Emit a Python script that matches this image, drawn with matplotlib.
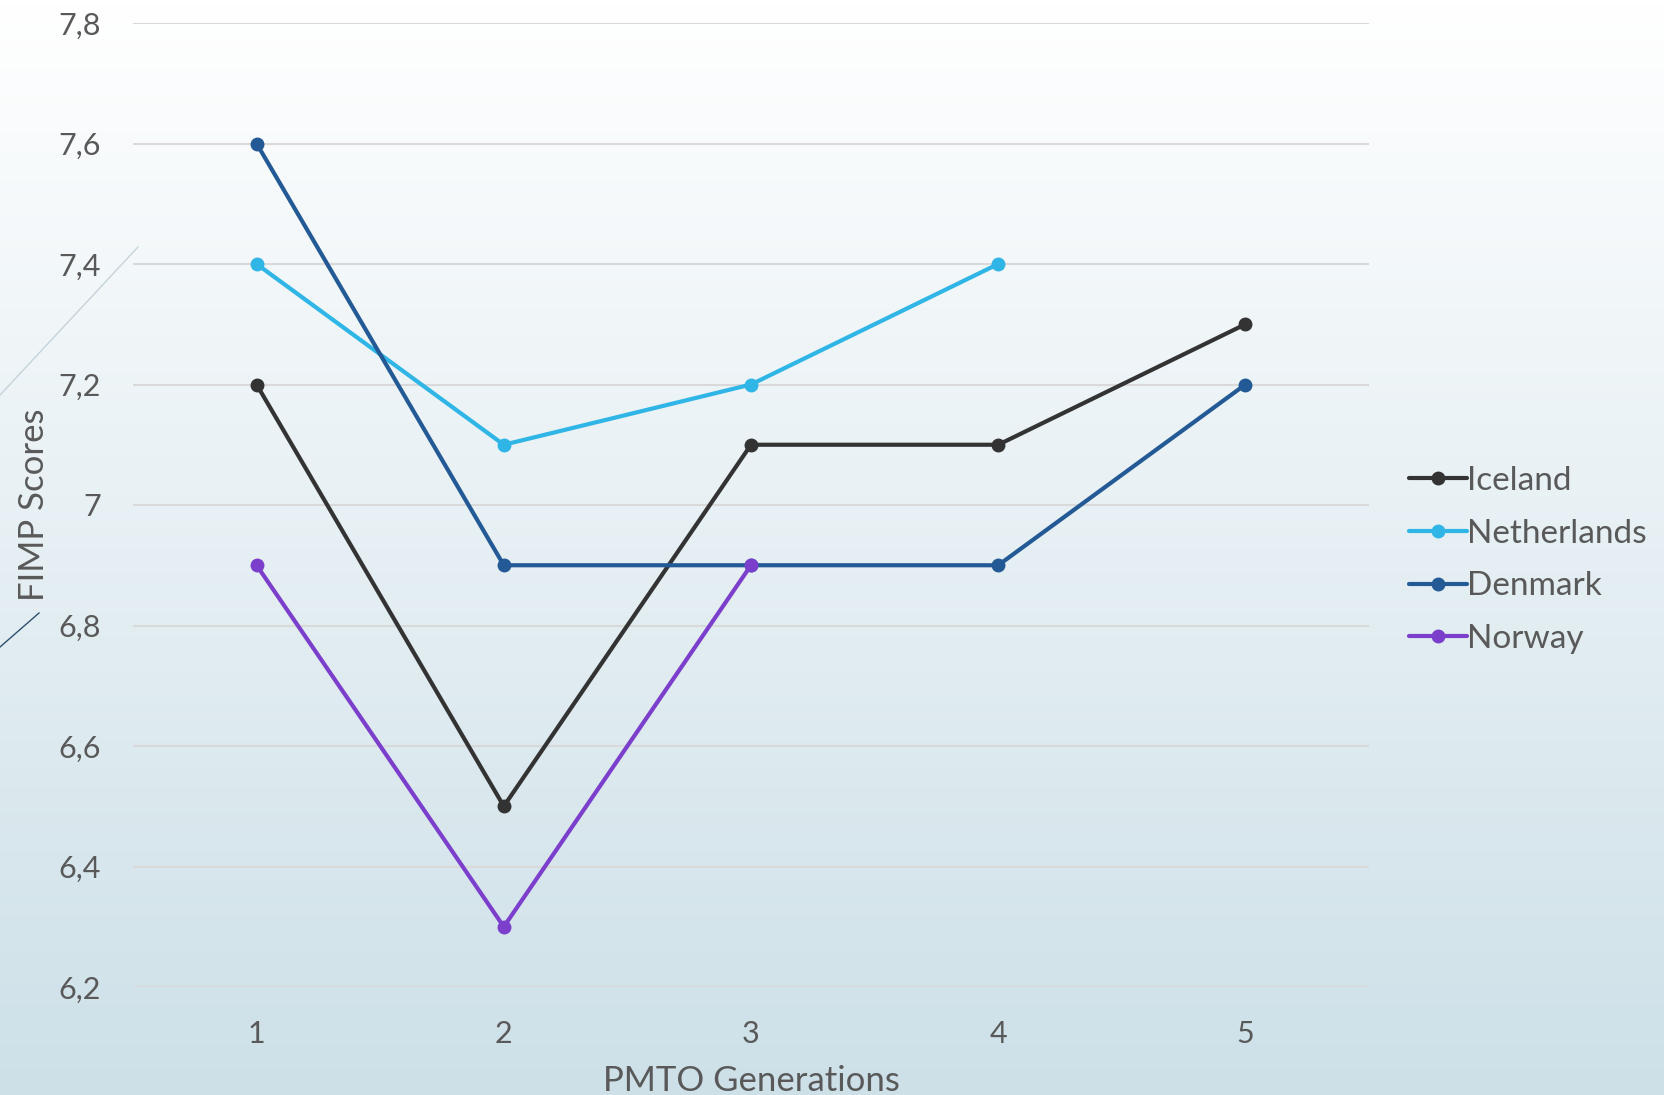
import matplotlib
matplotlib.use("Agg")
import matplotlib.pyplot as plt
import numpy as np
from matplotlib.colors import LinearSegmentedColormap
from matplotlib.lines import Line2D

# Chart data
generations = [1, 2, 3, 4, 5]
iceland = [7.2, 6.5, 7.1, 7.1, 7.3]
netherlands = [7.4, 7.1, 7.2, 7.4, None]
denmark = [7.6, 6.9, 6.9, 6.9, 7.2]
norway = [6.9, 6.3, 6.9, None, None]

y_ticks = [6.2, 6.4, 6.6, 6.8, 7.0, 7.2, 7.4, 7.6, 7.8]
y_tick_labels = ["6,2", "6,4", "6,6", "6,8", "7", "7,2", "7,4", "7,6", "7,8"]

SERIES = [
    ("Iceland", iceland, "#333333"),
    ("Netherlands", netherlands, "#2fb5e6"),
    ("Denmark", denmark, "#235a96"),
    ("Norway", norway, "#7b3fcc"),
]

TEXT_COLOR = "#595959"
plt.rcParams["font.family"] = ["Lato", "DejaVu Sans"]

fig = plt.figure(figsize=(16.64, 10.95), dpi=100)

# Background gradient (white at top, pale blue at bottom)
bg = fig.add_axes([0, 0, 1, 1], zorder=-10)
cmap = LinearSegmentedColormap.from_list("bg", ["#cde0e8", "#ffffff"])
bg.imshow(np.linspace(0, 1, 256).reshape(-1, 1), aspect="auto", cmap=cmap,
          origin="lower", extent=[0, 1, 0, 1])
bg.set_xlim(0, 1)
bg.set_ylim(0, 1)
bg.axis("off")

# Slide decoration lines on the left edge
bg.add_line(Line2D([0.0, 138 / 1664], [1 - 395 / 1095, 1 - 247 / 1095],
                   color="#c5d3dc", lw=1.0))
bg.add_line(Line2D([0.0, 39 / 1664], [1 - 647 / 1095, 1 - 613 / 1095],
                   color="#2e4f6e", lw=1.0))

ax = fig.add_axes([133 / 1664, 1 - 987 / 1095, 1236 / 1664, 964 / 1095])
ax.patch.set_alpha(0)

for name, vals, color in SERIES:
    xs = [g for g, v in zip(generations, vals) if v is not None]
    ys = [v for v in vals if v is not None]
    ax.plot(xs, ys, color=color, lw=3.0, marker="o", markersize=9,
            label=name, solid_capstyle="round")

ax.set_xlim(0.5, 5.5)
ax.set_ylim(6.2, 7.8)
ax.set_yticks(y_ticks)
ax.set_yticklabels(y_tick_labels)
ax.set_xticks(generations)
ax.tick_params(length=0, labelsize=22, colors=TEXT_COLOR)
ax.tick_params(axis="x", pad=24)
ax.tick_params(axis="y", pad=23)
ax.grid(axis="y", color="#d9d9d9", lw=1.5)
ax.set_axisbelow(True)
for s in ax.spines.values():
    s.set_visible(False)

ax.set_xlabel("PMTO Generations", fontsize=25, color=TEXT_COLOR, labelpad=12)
ax.set_ylabel("FIMP Scores", fontsize=25, color=TEXT_COLOR, labelpad=6)

ax.legend(loc="center left", bbox_to_anchor=(1.032, 0.443),
          frameon=False, fontsize=24, handlelength=1.75, handletextpad=0.0,
          labelspacing=0.68, labelcolor=TEXT_COLOR, borderpad=0,
          borderaxespad=0)

fig.savefig("out.png", dpi=100)
